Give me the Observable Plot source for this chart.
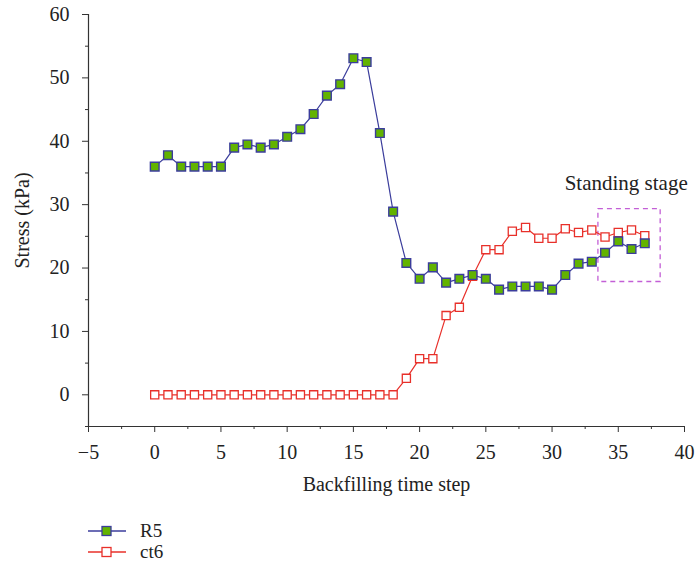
<!DOCTYPE html>
<html>
<head>
<meta charset="utf-8">
<script src="https://cdn.jsdelivr.net/npm/d3@7"></script>
<script src="https://cdn.jsdelivr.net/npm/@observablehq/plot@0.6"></script>
<style>
  body { margin: 0; background: #fff; font-family: "Liberation Serif", "DejaVu Serif", serif; }
  #wrap { position: relative; width: 695px; height: 572px; }
  #legend { position: absolute; left: 88px; top: 520px; font-size: 19px; color: #222; }
  .row { display: flex; align-items: center; height: 21px; }
  .row span { margin-left: 14px; }
</style>
</head>
<body>
<div id="wrap">
  <div id="chart"></div>
  <div id="legend"></div>
</div>
<script>
const timeSteps = d3.range(0, 38);
const r5 = [36.0, 37.8, 36.0, 36.0, 36.0, 36.0, 39.0, 39.5, 39.0, 39.5,
            40.7, 41.9, 44.3, 47.2, 49.0, 53.1, 52.5, 41.3, 28.9, 20.8,
            18.3, 20.1, 17.7, 18.3, 18.9, 18.3, 16.6, 17.1, 17.1, 17.1,
            16.6, 18.9, 20.7, 21.0, 22.4, 24.2, 23.0, 23.9];
const ct6 = [0, 0, 0, 0, 0, 0, 0, 0, 0, 0,
             0, 0, 0, 0, 0, 0, 0, 0, 0, 2.6,
             5.7, 5.7, 12.5, 13.8, 18.7, 22.9, 22.9, 25.8, 26.4, 24.7,
             24.7, 26.2, 25.6, 26.0, 24.9, 25.6, 26.0, 25.1];
const seriesNames = ["R5", "ct6"];
const xTicks = d3.range(-5, 41, 5);
const xMinor = d3.range(-2.5, 40, 5);
const yTicks = d3.range(0, 61, 10);
const yMinor = d3.range(-5, 60, 10);
const standingBox = [{x1: 33.5, x2: 38.2, y1: 17.8, y2: 29.3}];
const annotation = [{x: 35.6, y: 33.4, text: "Standing stage"}];

const rowsR5 = timeSteps.map((t, i) => ({t, v: r5[i]}));
const rowsCt6 = timeSteps.map((t, i) => ({t, v: ct6[i]}));

const blue = "#3b3d9c", green = "#62b300", red = "#e8302a", axisColor = "#333";

const chart = Plot.plot({
  width: 695,
  height: 500,
  marginLeft: 88,
  marginRight: 11,
  marginTop: 14,
  marginBottom: 74,
  style: {fontFamily: "'Liberation Serif', 'DejaVu Serif', serif", fontSize: "20px", color: "#222", background: "white"},
  x: {domain: [-5, 40]},
  y: {domain: [-5, 60]},
  marks: [
    Plot.ruleX([-5], {stroke: axisColor, strokeWidth: 1.2}),
    Plot.ruleY([-5], {stroke: axisColor, strokeWidth: 1.2}),
    Plot.axisX({ticks: xTicks, tickSize: 6, tickPadding: 12, stroke: axisColor, fontSize: 20,
                label: "Backfilling time step", labelAnchor: "center", labelArrow: "none", labelOffset: 64}),
    Plot.axisX({ticks: xMinor, tickSize: 3, tickFormat: () => "", stroke: axisColor, label: null}),
    Plot.axisY({ticks: yTicks, tickSize: 6, tickPadding: 13, stroke: axisColor, fontSize: 20,
                label: "Stress (kPa)", labelAnchor: "center", labelArrow: "none", labelOffset: 74}),
    Plot.axisY({ticks: yMinor, tickSize: 3, tickFormat: () => "", stroke: axisColor, label: null}),
    Plot.rect(standingBox, {x1: "x1", x2: "x2", y1: "y1", y2: "y2", fill: "none", stroke: "#c35fd6", strokeWidth: 1.3, strokeDasharray: "5,4"}),
    Plot.text(annotation, {x: "x", y: "y", text: "text", fontSize: 21, fill: "#222", textAnchor: "middle"}),
    Plot.line(rowsCt6, {x: "t", y: "v", stroke: red, strokeWidth: 1.2}),
    Plot.dot(rowsCt6, {x: "t", y: "v", symbol: "square", r: 4.6, fill: "white", stroke: red, strokeWidth: 1.3}),
    Plot.line(rowsR5, {x: "t", y: "v", stroke: blue, strokeWidth: 1.2}),
    Plot.dot(rowsR5, {x: "t", y: "v", symbol: "square", r: 4.9, fill: green, stroke: blue, strokeWidth: 1.4})
  ]
});
document.getElementById("chart").appendChild(chart);

// legend
const legendStyles = {
  R5: {line: blue, fill: green, stroke: blue},
  ct6: {line: red, fill: "white", stroke: red}
};
const legend = document.getElementById("legend");
seriesNames.forEach(name => {
  const s = legendStyles[name];
  const row = document.createElement("div");
  row.className = "row";
  row.innerHTML = `<svg width="38" height="14"><line x1="0" x2="38" y1="7" y2="7" stroke="${s.line}" stroke-width="1.3"/><rect x="14" y="2.5" width="9" height="9" fill="${s.fill}" stroke="${s.stroke}" stroke-width="1.3"/></svg><span>${name}</span>`;
  legend.appendChild(row);
});
</script>
</body>
</html>
